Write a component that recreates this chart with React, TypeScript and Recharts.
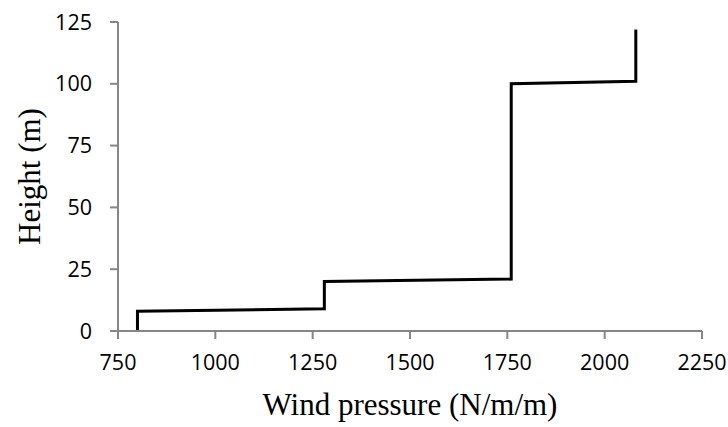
import { LineChart, Line, XAxis, YAxis } from "recharts";

// step profile of wind pressure with height
const pressure = [800, 800, 1280, 1280, 1760, 1760, 2080, 2080];
const height = [0, 8, 9, 20, 21, 100, 101, 122];

const xTicks = [750, 1000, 1250, 1500, 1750, 2000, 2250];
const yTicks = [0, 25, 50, 75, 100, 125];

const data = pressure.map((p, i) => ({ p, h: height[i] }));

const AXIS = "#868686";
const TICK_FONT = { fontFamily: "'Open Sans', sans-serif", fontSize: 21.5, fill: "#000" };
const TITLE_FONT = "'Liberation Serif', 'Times New Roman', serif";

const XTitle = (props: any) => {
    const { x, y, width } = props.viewBox;
    return (
        <text x={x + width / 2} y={y + 84} textAnchor="middle" fontFamily={TITLE_FONT} fontSize={31} fill="#000">
            Wind pressure (N/m/m)
        </text>
    );
};

const YTitle = (props: any) => {
    const { y, height: h } = props.viewBox;
    const cx = 29;
    const cy = y + h / 2;
    return (
        <text
            x={cx}
            y={cy}
            transform={`rotate(-90 ${cx} ${cy})`}
            textAnchor="middle"
            dominantBaseline="central"
            fontFamily={TITLE_FONT}
            fontSize={31}
            fill="#000"
        >
            Height (m)
        </text>
    );
};

export default function App() {
    return (
        <div style={{ width: 728, height: 427, background: "#fff" }}>
            <style>{`body{margin:0}`}</style>
            <LineChart width={728} height={427} data={data} margin={{ top: 22, right: 26, left: 0, bottom: 36 }}>
                <XAxis
                    dataKey="p"
                    type="number"
                    domain={[750, 2250]}
                    ticks={xTicks}
                    interval={0}
                    height={60}
                    stroke={AXIS}
                    strokeWidth={2}
                    tickSize={8}
                    tickMargin={16}
                    tick={TICK_FONT}
                    tickLine={{ stroke: AXIS, strokeWidth: 2 }}
                    label={<XTitle />}
                />
                <YAxis
                    dataKey="h"
                    type="number"
                    domain={[0, 125]}
                    ticks={yTicks}
                    interval={0}
                    width={118}
                    stroke={AXIS}
                    strokeWidth={2}
                    tickSize={8}
                    tickMargin={18}
                    tick={TICK_FONT}
                    tickLine={{ stroke: AXIS, strokeWidth: 2 }}
                    label={<YTitle />}
                />
                <Line
                    type="linear"
                    dataKey="h"
                    stroke="#000"
                    strokeWidth={3}
                    dot={false}
                    activeDot={false}
                    strokeLinejoin="miter"
                    isAnimationActive={false}
                />
            </LineChart>
        </div>
    );
}
